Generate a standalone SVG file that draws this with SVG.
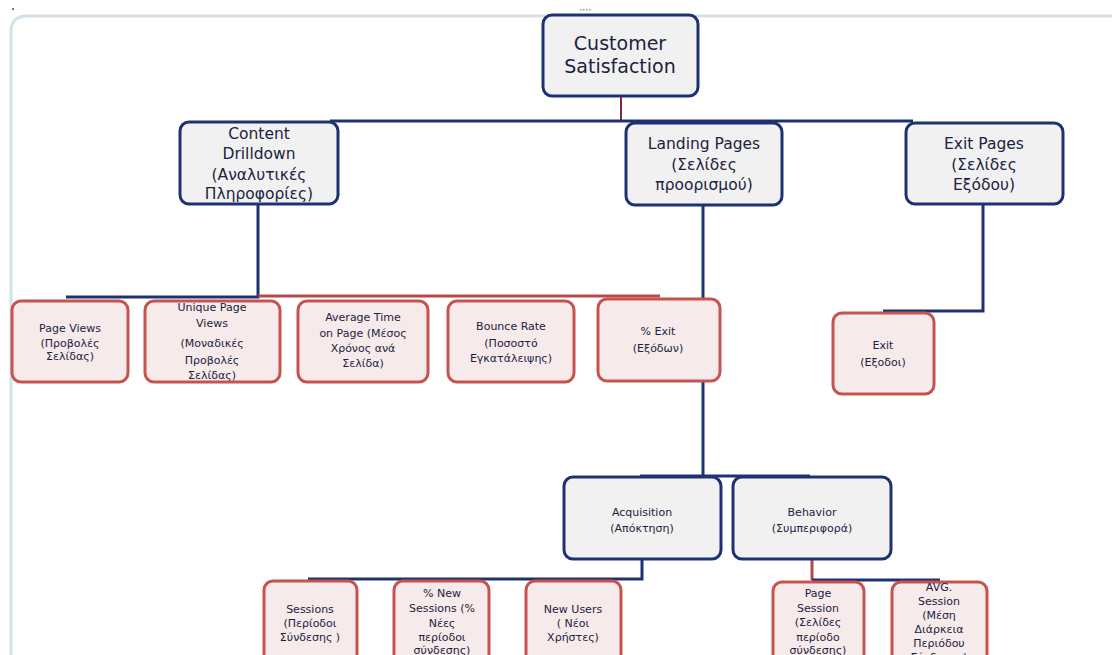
<svg xmlns="http://www.w3.org/2000/svg" width="1112" height="655" viewBox="0 0 1112 655">
<style>
.bn{fill:#f1f1f1;stroke:#1e3272;stroke-width:3}
.rn{fill:#f6eaea;stroke:#c55450;stroke-width:3}
.t1{font-family:"DejaVu Sans",sans-serif;font-size:19px;fill:#1c2340;text-anchor:middle}
.t2{font-family:"DejaVu Sans",sans-serif;font-size:15.5px;fill:#1c2340;text-anchor:middle}
.t3{font-family:"DejaVu Sans",sans-serif;font-size:11px;fill:#1c2340;text-anchor:middle}
.cb{fill:none;stroke:#1e3272;stroke-width:3}
.cr{fill:none;stroke:#b54a4a;stroke-width:3}
</style>
<rect width="1112" height="655" fill="#ffffff"/>
<path d="M11 655 V32 Q11 16 27 16 H1112" fill="none" stroke="#d3e2e8" stroke-width="3"/>
<rect x="12" y="8" width="2" height="2" fill="#777"/>
<g fill="#999"><rect x="580" y="9" width="1.5" height="1.5"/><rect x="583" y="9" width="1.5" height="1.5"/><rect x="586" y="9" width="1.5" height="1.5"/><rect x="589" y="9" width="1.5" height="1.5"/></g>

<g id="connectors">
<path class="cr" d="M621 96 V121" stroke="#7d2a3c" style="stroke:#7d2a3c;stroke-width:2"/>
<path class="cb" d="M330 121 H913"/>
<path class="cb" d="M258 204 V297 H66"/>
<path class="cr" d="M258 296 H660"/>
<path class="cb" d="M703 205 V476"/>
<path class="cb" d="M640 476 H810"/>
<path class="cb" d="M983 204 V311 H883"/>
<path class="cb" d="M642 559 V579 H308"/>
<path class="cr" d="M812 559 V580"/>
<path class="cb" d="M812 580 H940"/>
</g>

<g id="customer-satisfaction"><rect class="bn" x="543" y="15" width="155" height="81" rx="9"/>
<text class="t1" x="620" y="50">Customer</text><text class="t1" x="620" y="73">Satisfaction</text></g>

<g id="content-drilldown"><rect class="bn" x="180" y="122" width="158" height="82" rx="9"/>
<text class="t2" x="259" y="139">Content</text><text class="t2" x="259" y="159">Drilldown</text><text class="t2" x="259" y="180">(Αναλυτικές</text><text class="t2" x="259" y="199">Πληροφορίες)</text></g>

<g id="landing-pages"><rect class="bn" x="626" y="123" width="156" height="82" rx="9"/>
<text class="t2" x="704" y="149">Landing Pages</text><text class="t2" x="704" y="170">(Σελίδες</text><text class="t2" x="704" y="190">προορισμού)</text></g>

<g id="exit-pages"><rect class="bn" x="906" y="123" width="157" height="81" rx="9"/>
<text class="t2" x="984" y="149">Exit Pages</text><text class="t2" x="984" y="170">(Σελίδες</text><text class="t2" x="984" y="190">Εξόδου)</text></g>

<g id="page-views"><rect class="rn" x="12" y="301" width="116" height="81" rx="9"/>
<text class="t3" x="70" y="332">Page Views</text><text class="t3" x="70" y="347">(Προβολές</text><text class="t3" x="70" y="360">Σελίδας)</text></g>

<g id="unique-page-views"><rect class="rn" x="145" y="301" width="135" height="81" rx="9"/>
<text class="t3" x="212" y="311">Unique Page</text><text class="t3" x="212" y="327">Views</text><text class="t3" x="212" y="347">(Μοναδικές</text><text class="t3" x="212" y="364">Προβολές</text><text class="t3" x="212" y="379">Σελίδας)</text></g>

<g id="average-time"><rect class="rn" x="298" y="301" width="130" height="81" rx="9"/>
<text class="t3" x="363" y="321">Average Time</text><text class="t3" x="363" y="337">on Page (Μέσος</text><text class="t3" x="363" y="352">Χρόνος ανά</text><text class="t3" x="363" y="367">Σελίδα)</text></g>

<g id="bounce-rate"><rect class="rn" x="448" y="301" width="126" height="81" rx="9"/>
<text class="t3" x="511" y="330">Bounce Rate</text><text class="t3" x="511" y="347">(Ποσοστό</text><text class="t3" x="511" y="362">Εγκατάλειψης)</text></g>

<g id="pct-exit"><rect class="rn" x="598" y="299" width="122" height="82" rx="9"/>
<text class="t3" x="658" y="335">% Exit</text><text class="t3" x="658" y="352">(Εξόδων)</text></g>

<g id="exit"><rect class="rn" x="833" y="313" width="101" height="81" rx="9"/>
<text class="t3" x="883" y="349">Exit</text><text class="t3" x="883" y="366">(Εξοδοι)</text></g>

<g id="acquisition"><rect class="bn" x="564" y="477" width="157" height="82" rx="9"/>
<text class="t3" x="642" y="516">Acquisition</text><text class="t3" x="642" y="532">(Απόκτηση)</text></g>

<g id="behavior"><rect class="bn" x="733" y="477" width="158" height="82" rx="9"/>
<text class="t3" x="812" y="516">Behavior</text><text class="t3" x="812" y="532">(Συμπεριφορά)</text></g>

<g id="sessions"><rect class="rn" x="264" y="581" width="93" height="100" rx="9"/>
<text class="t3" x="310" y="613">Sessions</text><text class="t3" x="310" y="627">(Περίοδοι</text><text class="t3" x="310" y="641">Σύνδεσης )</text></g>

<g id="pct-new-sessions"><rect class="rn" x="394" y="581" width="95" height="100" rx="9"/>
<text class="t3" x="442" y="597">% New</text><text class="t3" x="442" y="612">Sessions (%</text><text class="t3" x="442" y="627">Νέες</text><text class="t3" x="442" y="641">περίοδοι</text><text class="t3" x="442" y="654">σύνδεσης)</text></g>

<g id="new-users"><rect class="rn" x="526" y="581" width="95" height="100" rx="9"/>
<text class="t3" x="573" y="613">New Users</text><text class="t3" x="573" y="627">( Νέοι</text><text class="t3" x="573" y="641">Χρήστες)</text></g>

<g id="page-session"><rect class="rn" x="773" y="582" width="91" height="100" rx="9"/>
<text class="t3" x="818" y="597">Page</text><text class="t3" x="818" y="612">Session</text><text class="t3" x="818" y="626">(Σελίδες</text><text class="t3" x="818" y="641">περίοδο</text><text class="t3" x="818" y="654">σύνδεσης)</text></g>

<g id="avg-session"><rect class="rn" x="892" y="582" width="95" height="100" rx="9"/>
<text class="t3" x="939" y="591">AVG.</text><text class="t3" x="939" y="605">Session</text><text class="t3" x="939" y="619">(Μέση</text><text class="t3" x="939" y="633">Διάρκεια</text><text class="t3" x="939" y="647">Περιόδου</text><text class="t3" x="939" y="661">Σύνδεσης)</text></g>
</svg>
